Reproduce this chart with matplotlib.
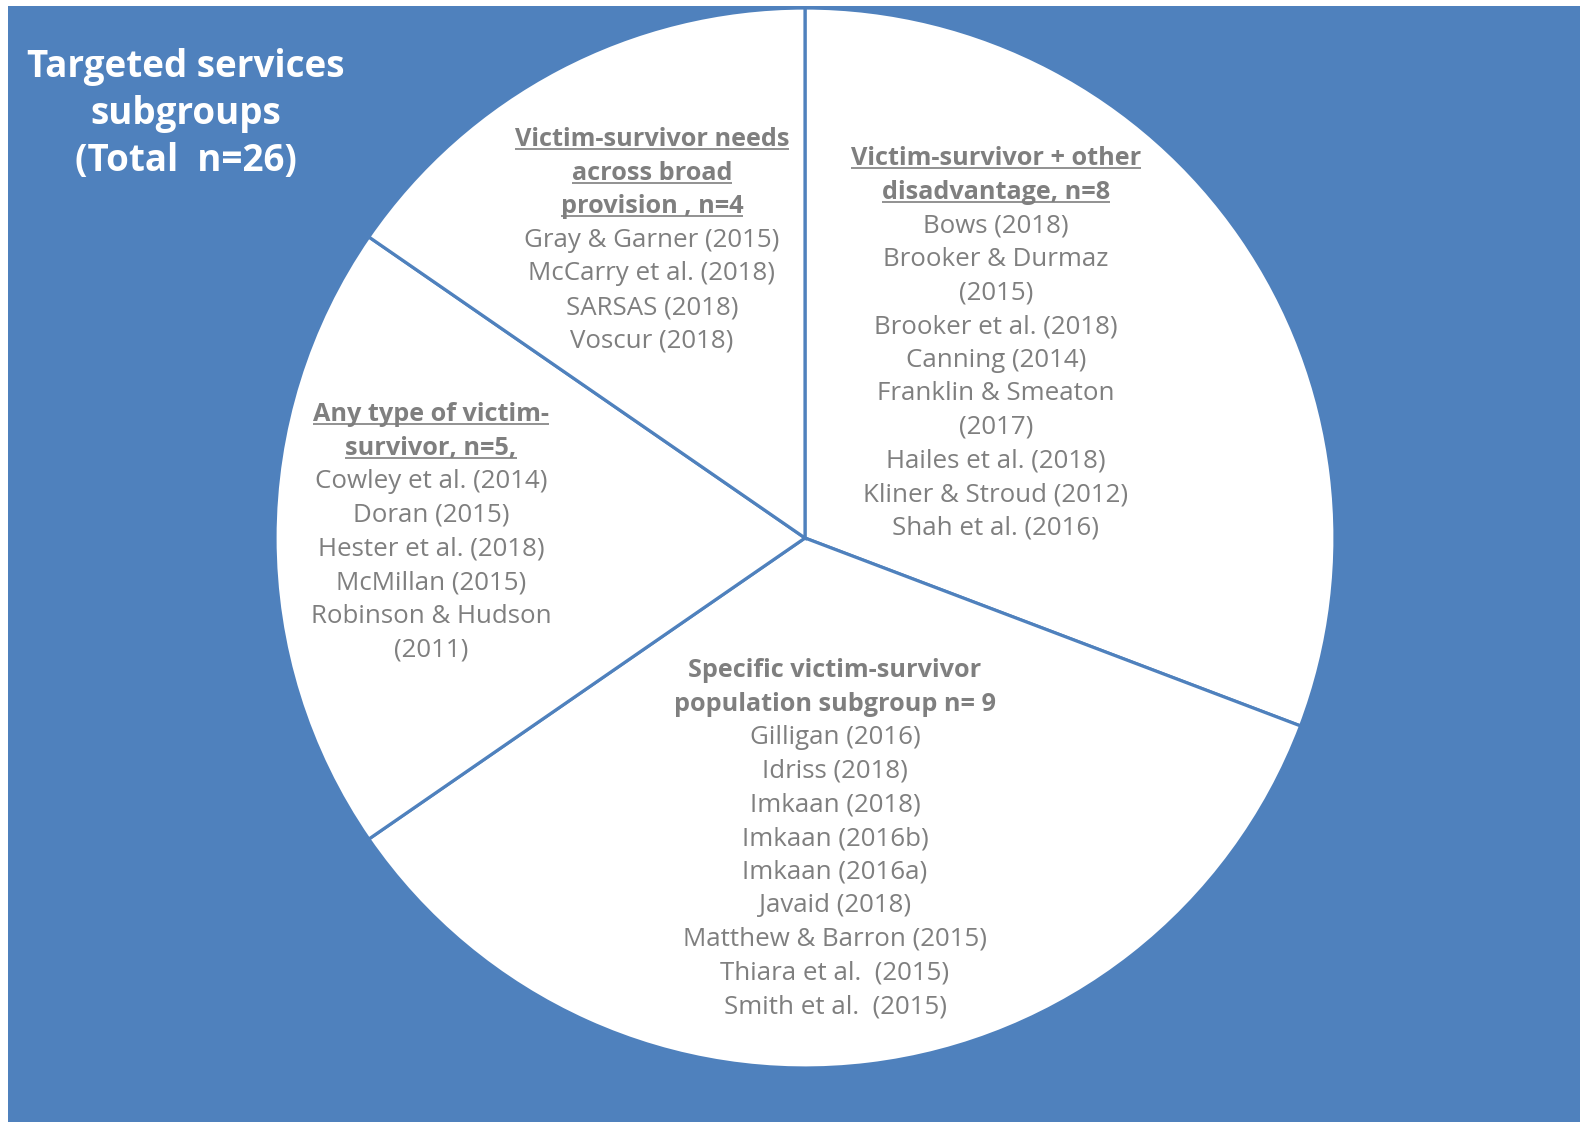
import matplotlib
matplotlib.use("Agg")
import matplotlib.pyplot as plt
from matplotlib.patches import Rectangle

# ---- data ----
group_names = [
    "Victim-survivor + other disadvantage",
    "Specific victim-survivor population subgroup",
    "Any type of victim-survivor",
    "Victim-survivor needs across broad provision",
]
group_counts = [8, 9, 5, 4]

header_lines = [
    ["Victim-survivor + other", "disadvantage, n=8"],
    ["Specific victim-survivor", "population subgroup n= 9"],
    ["Any type of victim-", "survivor, n=5,"],
    ["Victim-survivor needs", "across broad", "provision , n=4"],
]
header_underlined = [True, False, True, True]
study_lines = [
    ["Bows (2018)", "Brooker & Durmaz", "(2015)", "Brooker et al. (2018)", "Canning (2014)",
     "Franklin & Smeaton", "(2017)", "Hailes et al. (2018)", "Kliner & Stroud (2012)",
     "Shah et al. (2016)"],
    ["Gilligan (2016)", "Idriss (2018)", "Imkaan (2018)", "Imkaan (2016b)", "Imkaan (2016a)",
     "Javaid (2018)", "Matthew & Barron (2015)", "Thiara et al.  (2015)", "Smith et al.  (2015)"],
    ["Cowley et al. (2014)", "Doran (2015)", "Hester et al. (2018)", "McMillan (2015)",
     "Robinson & Hudson", "(2011)"],
    ["Gray & Garner (2015)", "McCarry et al. (2018)", "SARSAS (2018)", "Voscur (2018)"],
]
title_lines = ["Targeted services", "subgroups", "(Total  n=26)"]

# ---- style / layout ----
W, H = 1580, 1122
BLUE = "#4F81BD"
GRAY = "#7F7F7F"
FONT = "Open Sans"

fig = plt.figure(figsize=(W / 100, H / 100), dpi=100)
fig.patch.set_facecolor("white")
ax = fig.add_axes([0, 0, 1, 1])

ax.add_patch(Rectangle((8, 0), W - 8, H - 6, facecolor=BLUE, edgecolor="none", zorder=0))

cx, cy_down, r = 805, 538, 530
ax.pie(group_counts, center=(cx, H - cy_down), radius=r, startangle=90, counterclock=False,
       colors=["white"] * len(group_counts),
       wedgeprops=dict(edgecolor=BLUE, linewidth=2.3))
ax.set_xlim(0, W)
ax.set_ylim(0, H)
ax.set_aspect("auto")
ax.axis("off")

# label block positions (x centre, y of first line centre, top-down pixels)
block_pos = [(996, 156), (835, 668), (431, 412), (652, 137)]
LS = 33.6
FS = 18.6
HFS = 18.2
CAP = 9

header_texts = []
for (bx, by), hl, ul, sl in zip(block_pos, header_lines, header_underlined, study_lines):
    y = by
    for line in hl:
        t = ax.text(bx, H - (y + CAP), line, ha="center", va="baseline", fontsize=HFS,
                    fontweight="bold", color=GRAY, family=FONT, zorder=5)
        if ul:
            header_texts.append(t)
        y += LS
    for line in sl:
        ax.text(bx, H - (y + CAP), line, ha="center", va="baseline", fontsize=FS,
                color=GRAY, family=FONT, zorder=5)
        y += LS

# title
ty = 64
for line in title_lines:
    ax.text(186, H - (ty + 13), line, ha="center", va="baseline", fontsize=26.5,
            fontweight="bold", color="white", family=FONT, zorder=5)
    ty += 47

# underlines for headers
fig.canvas.draw()
renderer = fig.canvas.get_renderer()
for t in header_texts:
    bb = t.get_window_extent(renderer)
    yb = t.get_position()[1] - 3
    ax.plot([bb.x0, bb.x1], [yb, yb], color=GRAY, lw=1.2, zorder=5, solid_capstyle="butt")

fig.savefig("out.png", dpi=100, facecolor="white")
